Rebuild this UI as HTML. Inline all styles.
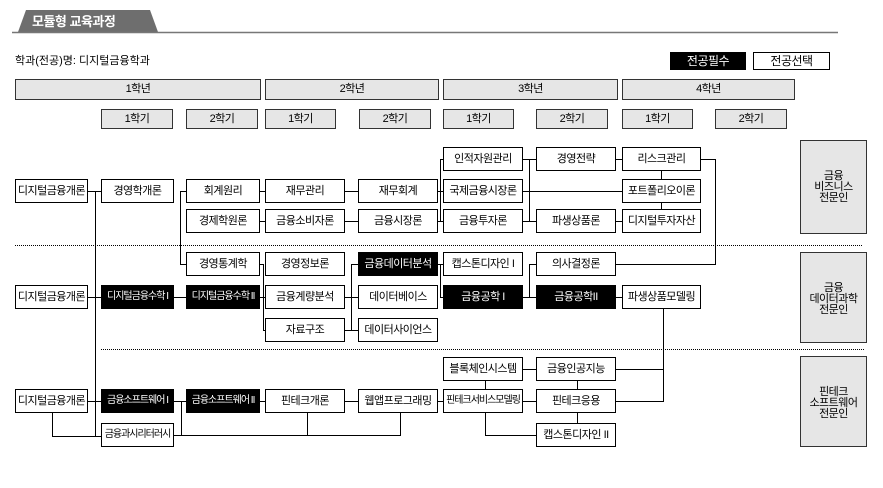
<!DOCTYPE html>
<html><head><meta charset="utf-8"><style>
body{margin:0;width:883px;height:488px;background:#fff;position:relative;overflow:hidden;font-family:"Liberation Sans","Noto Sans CJK KR","NanumGothic",sans-serif;}
.b{position:absolute;border:1px solid #000;box-sizing:border-box;text-align:center;font-size:11px;background:#fff;white-space:nowrap;overflow:hidden;letter-spacing:-0.5px}
.k{background:#000;color:#fff}
.g{background:#e6e6e6;border-color:#333}
.r{height:24px;line-height:22px}
.n{font-size:10px;letter-spacing:-1px}
svg{position:absolute;left:0;top:0}
</style></head><body>
<svg width="883" height="488">
<path d="M18 32 L26 10 L150 10 L158 32 Z" fill="#6e6e6e"/>
<line x1="12" y1="32.5" x2="838" y2="32.5" stroke="#777" stroke-width="1.5"/>
<g stroke="#000" stroke-width="1" fill="none" shape-rendering="crispEdges">
<line x1="15" y1="245.5" x2="862" y2="245.5" stroke-dasharray="1,1"/>
<line x1="101" y1="349.5" x2="865" y2="349.5" stroke-dasharray="1,1"/>
<path d="M87 191.5H101M95.5 191V436"/>
<path d="M180.5 191V264M180 191.5H186M180 264.5H186"/>
<path d="M259 191.5H265M344 191.5H358M259 221.5H265M344 221.5H358"/>
<path d="M437 191.5H443M437 221.5H443M440.5 159V221M440 159.5H443"/>
<path d="M522 159.5H536M522 221.5H536M529.5 159V221"/>
<path d="M522 191.5H622M615 159.5H622M615 221.5H622"/>
<path d="M661.5 170V179M661.5 203V209"/>
<path d="M700 159.5H715.5V264.5H615"/>
<path d="M87 297.5H101M173 297.5H186M259 297.5H265"/>
<path d="M259 264.5H263.5V330.5H265M263 297.5H265"/>
<path d="M344 297.5H358M344 330.5H358M351.5 264V330M351 264.5H358"/>
<path d="M437 264.5H443M440.5 264V297M440 297.5H443"/>
<path d="M522 297.5H536M529.5 264V297M529 264.5H536"/>
<path d="M615 297.5H622"/>
<path d="M663.5 309V401M615 369.5H664M615 401.5H664"/>
<path d="M87 401.5H101M173 401.5H186M259 401.5H265M344 401.5H358M437 401.5H443M522 401.5H536"/>
<path d="M522 369.5H536M485.5 380V389M485.5 413V435.5H536M577.5 380V389M577.5 413V423"/>
<path d="M52.5 413V436.5H101M173 435.5H400.5V413M307.5 413V435M181.5 401V435"/>
</g>
</svg>
<div style="position:absolute;left:32px;top:11px;color:#fff;font-size:13px;font-weight:bold;letter-spacing:-0.5px">모듈형 교육과정</div>
<div style="position:absolute;left:15px;top:52px;font-size:11px">학과(전공)명: 디지털금융학과</div>
<div class="b k" style="left:670px;top:52px;width:76px;height:18px;line-height:16px;font-size:12px">전공필수</div>
<div class="b" style="left:753px;top:52px;width:77px;height:18px;line-height:16px;font-size:12px">전공선택</div>

<div class="b g" style="left:15px;top:79px;width:246px;height:21px;line-height:19px">1학년</div>
<div class="b g" style="left:265px;top:79px;width:174px;height:21px;line-height:19px">2학년</div>
<div class="b g" style="left:443px;top:79px;width:175px;height:21px;line-height:19px">3학년</div>
<div class="b g" style="left:622px;top:79px;width:173px;height:21px;line-height:19px">4학년</div>

<div class="b g" style="left:101px;top:109px;width:72px;height:20px;line-height:18px">1학기</div>
<div class="b g" style="left:186px;top:109px;width:72px;height:20px;line-height:18px">2학기</div>
<div class="b g" style="left:265px;top:109px;width:71px;height:20px;line-height:18px">1학기</div>
<div class="b g" style="left:359px;top:109px;width:72px;height:20px;line-height:18px">2학기</div>
<div class="b g" style="left:443px;top:109px;width:71px;height:20px;line-height:18px">1학기</div>
<div class="b g" style="left:536px;top:109px;width:72px;height:20px;line-height:18px">2학기</div>
<div class="b g" style="left:622px;top:109px;width:71px;height:20px;line-height:18px">1학기</div>
<div class="b g" style="left:715px;top:109px;width:72px;height:20px;line-height:18px">2학기</div>

<div class="b r" style="left:15px;top:179px;width:73px">디지털금융개론</div>
<div class="b r" style="left:101px;top:179px;width:73px">경영학개론</div>
<div class="b r" style="left:186px;top:179px;width:74px">회계원리</div>
<div class="b r" style="left:265px;top:179px;width:80px">재무관리</div>
<div class="b r" style="left:358px;top:179px;width:80px">재무회계</div>
<div class="b r" style="left:186px;top:209px;width:74px">경제학원론</div>
<div class="b r" style="left:265px;top:209px;width:80px">금융소비자론</div>
<div class="b r" style="left:358px;top:209px;width:80px">금융시장론</div>
<div class="b r" style="left:443px;top:147px;width:80px">인적자원관리</div>
<div class="b r" style="left:536px;top:147px;width:80px">경영전략</div>
<div class="b r" style="left:622px;top:147px;width:79px">리스크관리</div>
<div class="b r" style="left:443px;top:179px;width:80px">국제금융시장론</div>
<div class="b r" style="left:622px;top:179px;width:79px">포트폴리오이론</div>
<div class="b r" style="left:443px;top:209px;width:80px">금융투자론</div>
<div class="b r" style="left:536px;top:209px;width:80px">파생상품론</div>
<div class="b r" style="left:622px;top:209px;width:79px">디지털투자자산</div>

<div class="b r" style="left:186px;top:252px;width:74px">경영통계학</div>
<div class="b r" style="left:265px;top:252px;width:80px">경영정보론</div>
<div class="b r k" style="left:358px;top:252px;width:80px">금융데이터분석</div>
<div class="b r" style="left:443px;top:252px;width:80px">캡스톤디자인 I</div>
<div class="b r" style="left:536px;top:252px;width:80px">의사결정론</div>
<div class="b r" style="left:15px;top:285px;width:73px">디지털금융개론</div>
<div class="b r k n" style="left:101px;top:285px;width:73px">디지털금융수학 I</div>
<div class="b r k n" style="left:186px;top:285px;width:74px">디지털금융수학 II</div>
<div class="b r" style="left:265px;top:285px;width:80px">금융계량분석</div>
<div class="b r" style="left:358px;top:285px;width:80px">데이터베이스</div>
<div class="b r k" style="left:443px;top:285px;width:80px">금융공학 I</div>
<div class="b r k" style="left:536px;top:285px;width:80px">금융공학II</div>
<div class="b r" style="left:622px;top:285px;width:79px">파생상품모델링</div>
<div class="b r" style="left:265px;top:318px;width:80px">자료구조</div>
<div class="b r" style="left:358px;top:318px;width:80px">데이터사이언스</div>

<div class="b r" style="left:443px;top:357px;width:80px">블록체인시스템</div>
<div class="b r" style="left:536px;top:357px;width:80px">금융인공지능</div>
<div class="b r" style="left:15px;top:389px;width:73px">디지털금융개론</div>
<div class="b r k n" style="left:101px;top:389px;width:73px">금융소프트웨어 I</div>
<div class="b r k n" style="left:186px;top:389px;width:74px">금융소프트웨어 II</div>
<div class="b r" style="left:265px;top:389px;width:80px">핀테크개론</div>
<div class="b r" style="left:358px;top:389px;width:80px">웹앱프로그래밍</div>
<div class="b r n" style="left:443px;top:389px;width:80px">핀테크서비스모델링</div>
<div class="b r" style="left:536px;top:389px;width:80px">핀테크응용</div>
<div class="b r n" style="left:101px;top:423px;width:73px">금융과시리터러시</div>
<div class="b r" style="left:536px;top:423px;width:80px">캡스톤디자인 II</div>

<div class="b g" style="left:800px;top:140px;width:67px;height:94px;padding-top:30px;line-height:11px">금융<br>비즈니스<br>전문인</div>
<div class="b g" style="left:800px;top:252px;width:67px;height:91px;padding-top:30px;line-height:11px">금융<br>데이터과학<br>전문인</div>
<div class="b g" style="left:800px;top:356px;width:67px;height:91px;padding-top:30px;line-height:11px">핀테크<br>소프트웨어<br>전문인</div>
</body></html>
